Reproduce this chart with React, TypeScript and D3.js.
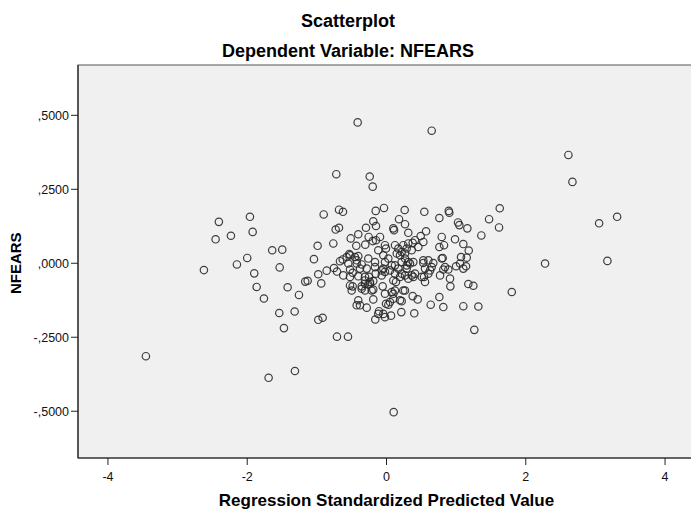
import React from 'react';
import * as d3 from 'd3';

const predicted = [
  -0.414, -0.721, -0.241, -0.198, -2.407, -1.961, -2.454, -2.234, -1.922, -1.641,
  -1.497, -2.000, -0.902, -0.682, -0.625, -0.155, -0.730, -0.682, -0.989, -0.764,
  -0.514, -0.405, -0.434, -0.295, -0.190, -0.151, -0.256, -0.198, -0.151, -0.305,
  -0.118, -1.042, 0.649, 2.612, 2.670, 3.053, 3.312, 1.626, 1.616, 1.473,
  1.362, 1.161, 1.027, 1.046, 0.894, 0.902, 0.759, 0.543, 0.261, -0.036,
  0.180, 0.266, 0.098, 0.108, 0.313, 0.491, 0.529, 0.568, 0.793, 0.826,
  0.759, 0.984, 1.103, 1.181, 1.070, 1.152, 0.807, 0.409, 0.376, -0.093,
  -0.022, -0.007, 2.277, 3.172, 1.799, 0.103, 1.261, 1.319, 1.103, 0.816,
  0.635, 0.759, 0.399, 0.213, 0.065, -0.046, -0.161, -0.108, 0.917, 1.175,
  1.247, 0.448, 0.376, 0.194, 0.218, 0.050, 0.026, -0.007, -0.190, 0.241,
  0.075, 0.098, -0.055, -0.190, 0.136, 0.553, 0.539, 0.362, 0.313, 0.769,
  0.625, 0.649, 0.888, 0.841, 0.816, 0.999, 1.103, 1.142, 0.529, 0.601,
  0.672, 0.338, 0.385, 0.290, 0.122, 0.170, 0.218, 0.122, -0.046, -0.022,
  -0.165, -0.155, -0.190, -0.237, -3.455, -1.693, -1.315, -0.711, -0.553, -2.622,
  -2.148, -1.899, -1.865, -1.760, -1.534, -1.420, -1.257, -1.540, -1.319, -1.473,
  -0.980, -0.937, -1.167, -1.132, -0.980, -0.917, -0.859, -0.754, -0.711, -0.668,
  -0.629, -0.572, -0.534, -0.405, -0.428, -0.356, -0.261, -0.284, -0.251, -0.405,
  -0.524, -0.486, -0.486, -0.500, -0.356, -0.309, -0.261, -0.213, -0.405, -0.381,
  -0.284, 0.122, 0.170, 0.218, 0.147, 0.194, 0.266, 0.290, 0.241, 0.313,
  -0.524, -0.453, -0.549, -0.428, -0.165, -0.046, 0.026, -0.022, 0.075, 0.218,
  0.266, -0.381, -0.069, 0.050, 0.290, -0.621, -0.524, -0.309, -0.069, 0.266,
  0.362, 0.457, 0.313, 0.529, 0.553, 0.601, 0.793, 1.056, 0.409, 0.506,
  0.912, -0.309, -0.237, -0.524, -0.356, -0.309, -0.022, 0.122, 0.194, 0.098,
  0.098, -0.428, -0.118, -0.022, 0.385, 0.266,
];

const nfears = [
  0.476, 0.301, 0.293, 0.259, 0.140, 0.157, 0.081, 0.093, 0.106, 0.044,
  0.046, 0.018, 0.165, 0.181, 0.174, 0.177, 0.114, 0.120, 0.059, 0.067,
  0.084, 0.098, 0.059, 0.120, 0.142, 0.126, 0.089, 0.075, 0.078, 0.063,
  0.044, 0.014, 0.448, 0.366, 0.275, 0.135, 0.157, 0.186, 0.121, 0.149,
  0.094, 0.118, 0.138, 0.129, 0.177, 0.171, 0.153, 0.174, 0.180, 0.187,
  0.149, 0.132, 0.118, 0.112, 0.103, 0.092, 0.072, 0.108, 0.089, 0.061,
  0.055, 0.081, 0.065, 0.043, 0.021, 0.019, 0.018, 0.078, 0.069, 0.089,
  0.061, 0.050, -0.001, 0.008, -0.097, -0.503, -0.225, -0.146, -0.145, -0.148,
  -0.140, -0.114, -0.169, -0.165, -0.177, -0.171, -0.190, -0.162, -0.078, -0.070,
  -0.076, -0.122, -0.111, -0.125, -0.128, -0.131, -0.140, -0.137, -0.122, -0.092,
  -0.097, -0.103, -0.078, -0.089, -0.063, -0.063, -0.046, -0.041, -0.052, -0.041,
  -0.024, -0.013, -0.021, -0.013, -0.021, -0.010, -0.018, -0.010, 0.001, 0.010,
  0.001, -0.001, 0.004, -0.007, -0.007, -0.018, -0.035, -0.035, -0.018, -0.029,
  -0.013, -0.035, -0.060, -0.069, -0.314, -0.387, -0.364, -0.248, -0.248, -0.023,
  -0.004, -0.034, -0.080, -0.119, -0.014, -0.081, -0.107, -0.168, -0.163, -0.219,
  -0.037, -0.068, -0.062, -0.059, -0.191, -0.184, -0.025, -0.016, -0.028, 0.007,
  0.013, 0.021, 0.031, 0.024, 0.010, -0.004, 0.016, -0.018, -0.046, -0.044,
  -0.021, -0.032, -0.078, -0.092, -0.078, -0.069, -0.072, -0.092, -0.125, -0.142,
  -0.150, 0.061, 0.050, 0.038, 0.033, 0.027, 0.033, 0.050, 0.061, 0.067,
  0.027, 0.021, -0.001, -0.001, 0.004, 0.027, 0.016, 0.004, -0.007, 0.004,
  0.016, -0.018, -0.024, -0.024, -0.018, -0.041, -0.046, -0.046, -0.041, -0.041,
  0.044, 0.055, 0.004, 0.010, -0.018, -0.035, 0.016, -0.001, -0.035, -0.046,
  -0.052, -0.058, -0.063, -0.075, -0.086, -0.092, -0.103, -0.092, -0.046, -0.058,
  -0.120, -0.142, -0.171, -0.182, -0.046, -0.092,
];

const xTicks = [-4, -2, 0, 2, 4];
const yTicks = [0.5, 0.25, 0, -0.25, -0.5];
const yTickLabels = [',5000', ',2500', ',0000', '-,2500', '-,5000'];

const title = 'Scatterplot';
const subtitle = 'Dependent Variable: NFEARS';
const xTitle = 'Regression Standardized Predicted Value';
const yTitle = 'NFEARS';

const W = 691;
const H = 513;
const left = 78;
const right = 695;
const top = 65;
const bottom = 458;

export default function App() {
  const x = d3.scaleLinear().domain([-4.43, 4.43]).range([left, right]);
  const y = d3.scaleLinear().domain([-0.658, 0.67]).range([bottom, top]);
  const font = 'Arial, "Liberation Sans", sans-serif';
  const points = predicted.map((p, i) => [p, nfears[i]] as [number, number]);
  return (
    <svg width={W} height={H} style={{ position: 'absolute', left: 0, top: 0, background: '#fff' }} fontFamily={font}>
      <rect x={0} y={0} width={W} height={H} fill="#ffffff" />
      <text x={348} y={27} textAnchor="middle" fontSize={18} fontWeight="bold" fill="#000">{title}</text>
      <text x={348} y={57} textAnchor="middle" fontSize={18} fontWeight="bold" fill="#000">{subtitle}</text>
      <rect x={left} y={top} width={right - left} height={bottom - top} fill="#f0f0f0" stroke="#555" strokeWidth={1} />
      <line x1={left} x2={left} y1={top} y2={bottom} stroke="#222" strokeWidth={1.2} />
      <line x1={left} x2={right} y1={bottom} y2={bottom} stroke="#222" strokeWidth={1.2} />
      {yTicks.map((t, i) => (
        <g key={'y' + i}>
          <line x1={left - 7} x2={left} y1={y(t)} y2={y(t)} stroke="#222" strokeWidth={1} />
          <text x={left - 9} y={y(t)} dy="0.35em" textAnchor="end" fontSize={12.5} fill="#111">{yTickLabels[i]}</text>
        </g>
      ))}
      {xTicks.map((t, i) => (
        <g key={'x' + i}>
          <line x1={x(t)} x2={x(t)} y1={bottom} y2={bottom + 7} stroke="#222" strokeWidth={1} />
          <text x={x(t)} y={481} textAnchor="middle" fontSize={12.5} fill="#111">{String(t)}</text>
        </g>
      ))}
      <text x={(left + right) / 2} y={506} textAnchor="middle" fontSize={17} fontWeight="bold" fill="#000">{xTitle}</text>
      <text transform={`translate(21,${y(0)}) rotate(-90)`} textAnchor="middle" fontSize={15} fontWeight="bold" fill="#000">{yTitle}</text>
      <g>
        {points.map((d, i) => (
          <circle key={i} cx={x(d[0])} cy={y(d[1])} r={3.7} fill="none" stroke="#2a2a2a" strokeOpacity={0.9} strokeWidth={1.2} />
        ))}
      </g>
    </svg>
  );
}
